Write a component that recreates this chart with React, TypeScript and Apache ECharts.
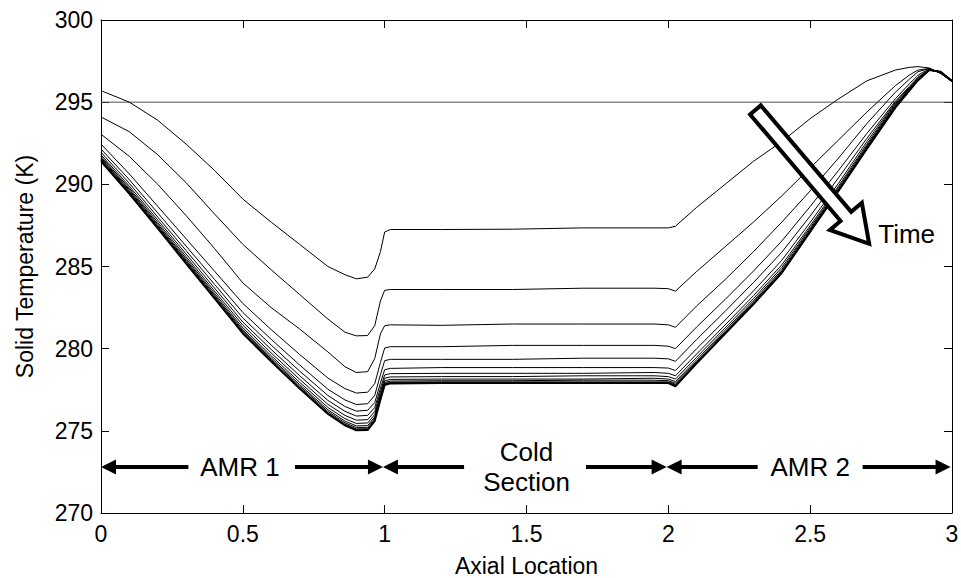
import React, { useEffect, useRef } from "react";
import * as echarts from "echarts";

const FONT = "'Liberation Sans', Arial, Helvetica, sans-serif";

// Axial positions shared by all temperature profiles
const xs = [0, 0.1, 0.2, 0.3, 0.4, 0.5, 0.6, 0.7, 0.8, 0.86, 0.9, 0.94, 0.965, 0.985, 1.0, 1.02, 1.2, 1.45, 1.7, 1.95, 2.0, 2.025, 2.1, 2.2, 2.3, 2.4, 2.5, 2.6, 2.7, 2.8, 2.85, 2.88, 2.92, 2.96, 3.0];

// Solid temperature profiles (K), earliest first
const t01 = [295.7, 295.0, 293.9, 292.45, 290.85, 289.1, 287.7, 286.35, 285.0, 284.5, 284.25, 284.35, 284.85, 285.9, 287.1, 287.25, 287.25, 287.27, 287.35, 287.35, 287.35, 287.45, 288.6, 290.0, 291.4, 292.6, 294.0, 295.2, 296.3, 296.95, 297.12, 297.16, 297.08, 296.75, 296.25];
const t02 = [294.1, 293.2, 291.8, 290.1, 288.2, 286.35, 284.8, 283.3, 281.8, 281.0, 280.78, 280.8, 281.4, 282.9, 283.55, 283.6, 283.6, 283.6, 283.68, 283.68, 283.65, 283.5, 284.7, 286.2, 287.7, 289.3, 291.0, 292.7, 294.4, 296.0, 296.65, 296.95, 297.05, 296.75, 296.25];
const t03 = [293.05, 291.7, 290.0, 288.1, 286.1, 284.0, 282.5, 281.2, 279.8, 278.9, 278.55, 278.6, 279.4, 280.9, 281.4, 281.45, 281.42, 281.5, 281.5, 281.5, 281.45, 281.3, 282.6, 284.2, 285.9, 287.7, 289.6, 291.6, 293.7, 295.6, 296.4, 296.85, 297.05, 296.78, 296.25];
const t04 = [292.45, 290.63, 288.66, 286.69, 284.72, 282.75, 281.16, 279.65, 278.21, 277.57, 277.3, 277.35, 277.87, 279.15, 280.04, 280.12, 280.12, 280.2, 280.2, 280.2, 280.15, 280.0, 281.32, 282.99, 284.72, 286.55, 288.65, 290.85, 293.1, 295.2, 296.12, 296.64, 297.03, 296.8, 296.27];
const t05 = [292.15, 290.28, 288.26, 286.24, 284.22, 282.2, 280.57, 279.01, 277.53, 276.88, 276.6, 276.65, 277.16, 278.41, 279.27, 279.35, 279.35, 279.35, 279.42, 279.42, 279.38, 279.23, 280.56, 282.27, 284.02, 285.87, 288.07, 290.4, 292.8, 295.05, 295.96, 296.52, 297.0, 296.82, 296.28];
const t06 = [291.95, 290.06, 288.01, 285.97, 283.92, 281.87, 280.22, 278.64, 277.15, 276.48, 276.2, 276.25, 276.72, 277.9, 278.72, 278.8, 278.85, 278.85, 278.85, 278.85, 278.82, 278.67, 280.0, 281.74, 283.51, 285.38, 287.68, 290.07, 292.6, 294.98, 295.9, 296.46, 296.98, 296.83, 296.29];
const t07 = [291.8, 289.89, 287.83, 285.76, 283.69, 281.62, 279.95, 278.36, 276.85, 276.19, 275.9, 275.94, 276.42, 277.59, 278.4, 278.48, 278.5, 278.5, 278.5, 278.55, 278.5, 278.35, 279.68, 281.44, 283.22, 285.1, 287.48, 289.9, 292.45, 294.9, 295.84, 296.42, 296.97, 296.84, 296.29];
const t08 = [291.7, 289.77, 287.69, 285.6, 283.51, 281.43, 279.74, 278.14, 276.61, 275.94, 275.65, 275.68, 276.18, 277.37, 278.2, 278.28, 278.3, 278.3, 278.35, 278.35, 278.3, 278.15, 279.48, 281.26, 283.04, 284.94, 287.36, 289.8, 292.35, 294.84, 295.8, 296.4, 296.96, 296.84, 296.3];
const t09 = [291.62, 289.68, 287.58, 285.48, 283.37, 281.27, 279.57, 277.96, 276.42, 275.74, 275.45, 275.48, 275.99, 277.21, 278.04, 278.13, 278.15, 278.15, 278.15, 278.2, 278.15, 278.0, 279.33, 281.12, 282.91, 284.81, 287.27, 289.71, 292.27, 294.78, 295.77, 296.38, 296.96, 296.85, 296.3];
const t10 = [291.56, 289.61, 287.5, 285.38, 283.27, 281.15, 279.45, 277.82, 276.28, 275.59, 275.3, 275.32, 275.85, 277.09, 277.94, 278.03, 278.05, 278.05, 278.08, 278.08, 278.05, 277.9, 279.23, 281.03, 282.82, 284.72, 287.2, 289.66, 292.23, 294.73, 295.75, 296.36, 296.95, 296.85, 296.3];
const t11 = [291.5, 289.54, 287.43, 285.31, 283.19, 281.07, 279.36, 277.73, 276.18, 275.49, 275.2, 275.21, 275.76, 277.01, 277.87, 277.96, 277.98, 277.98, 277.98, 277.98, 277.98, 277.83, 279.16, 280.97, 282.76, 284.66, 287.15, 289.63, 292.2, 294.7, 295.73, 296.35, 296.95, 296.85, 296.3];
const t12 = [291.46, 289.5, 287.38, 285.25, 283.13, 281.0, 279.29, 277.65, 276.1, 275.41, 275.12, 275.13, 275.68, 276.95, 277.83, 277.92, 277.94, 277.94, 277.94, 277.94, 277.94, 277.78, 279.13, 280.93, 282.73, 284.63, 287.13, 289.61, 292.17, 294.67, 295.72, 296.34, 296.95, 296.85, 296.3];
const t13 = [291.43, 289.45, 287.34, 285.2, 283.08, 280.95, 279.24, 277.6, 276.05, 275.36, 275.07, 275.08, 275.62, 276.91, 277.8, 277.9, 277.91, 277.91, 277.91, 277.91, 277.91, 277.74, 279.11, 280.91, 282.71, 284.61, 287.11, 289.6, 292.16, 294.66, 295.71, 296.33, 296.95, 296.85, 296.3];
const t14 = [291.4, 289.42, 287.31, 285.17, 283.05, 280.92, 279.21, 277.57, 276.02, 275.33, 275.03, 275.04, 275.58, 276.88, 277.78, 277.88, 277.9, 277.9, 277.9, 277.9, 277.9, 277.7, 279.1, 280.9, 282.7, 284.6, 287.1, 289.6, 292.15, 294.65, 295.7, 296.32, 296.95, 296.85, 296.3];

const profiles = [t01, t02, t03, t04, t05, t06, t07, t08, t09, t10, t11, t12, t13, t14];

// Reference temperature line
const refLevel = 295;

// Axis ranges
const xRange = [0, 3];
const xStep = 0.5;
const yRange = [270, 300];
const yStep = 5;

// Region annotations: [from, to, head at from, head at to]
const spanLevel = 272.8;
const spans = [
  [0, 0.308, 1, 0],
  [0.684, 0.994, 0, 1],
  [0.994, 1.28, 1, 0],
  [1.71, 1.994, 0, 1],
  [1.994, 2.315, 1, 0],
  [2.685, 2.995, 0, 1],
];
const spanLabelX = [0.49, 1.5, 2.5];
const spanLabelText = ["AMR 1", "Cold\nSection", "AMR 2"];

// Time arrow: [tailX, tailY, tipX, tipY]
const timeArrow = [2.307, 294.53, 2.708, 286.38];
const timeLabel = { x: 2.74, y: 287.0, text: "Time" };

export default function App() {
  const ref = useRef<HTMLDivElement>(null);
  useEffect(() => {
    if (!ref.current) return;
    const chart = echarts.init(ref.current, null, { renderer: "svg" });

    const lineSeries = profiles.map((ys, i) => ({
      type: "line",
      data: xs.map((x, j) => [x, ys[j]]),
      symbol: "none",
      showSymbol: false,
      silent: true,
      z: 3,
      lineStyle: { color: "#000", width: i === profiles.length - 1 ? 1.8 : 1 },
      emphasis: { disabled: true },
    }));

    const HEAD_LEN = 15;
    const HEAD_HALF = 7.5;

    const option: any = {
      animation: false,
      backgroundColor: "#fff",
      textStyle: { fontFamily: FONT },
      grid: { left: 101, top: 20, width: 851, height: 493, outerBoundsMode: "none" },
      xAxis: [
        {
          type: "value",
          min: xRange[0],
          max: xRange[1],
          interval: xStep,
          position: "bottom",
          name: "Axial Location",
          nameLocation: "middle",
          nameGap: 41,
          nameTextStyle: { fontSize: 23, color: "#000", fontFamily: FONT },
          axisLine: { show: true, onZero: false, lineStyle: { color: "#000", width: 1 } },
          axisTick: { show: true, inside: true, length: 8, lineStyle: { color: "#000" } },
          axisLabel: { fontSize: 23, color: "#000", margin: 9, fontFamily: FONT },
          splitLine: { show: false },
        },
        {
          type: "value",
          min: xRange[0],
          max: xRange[1],
          interval: xStep,
          position: "top",
          axisLine: { show: true, onZero: false, lineStyle: { color: "#000", width: 1 } },
          axisTick: { show: true, inside: true, length: 8, lineStyle: { color: "#000" } },
          axisLabel: { show: false },
          splitLine: { show: false },
        },
      ],
      yAxis: [
        {
          type: "value",
          min: yRange[0],
          max: yRange[1],
          interval: yStep,
          position: "left",
          name: "Solid Temperature (K)",
          nameLocation: "middle",
          nameGap: 65,
          nameTextStyle: { fontSize: 23, color: "#000", fontFamily: FONT },
          axisLine: { show: true, onZero: false, lineStyle: { color: "#000", width: 1 } },
          axisTick: { show: true, inside: true, length: 8, lineStyle: { color: "#000" } },
          axisLabel: { fontSize: 23, color: "#000", margin: 8, fontFamily: FONT },
          splitLine: { show: false },
        },
        {
          type: "value",
          min: yRange[0],
          max: yRange[1],
          interval: yStep,
          position: "right",
          axisLine: { show: true, onZero: false, lineStyle: { color: "#000", width: 1 } },
          axisTick: { show: true, inside: true, length: 8, lineStyle: { color: "#000" } },
          axisLabel: { show: false },
          splitLine: { show: false },
        },
      ],
      series: [
        {
          type: "line",
          data: [
            [xRange[0], refLevel],
            [xRange[1], refLevel],
          ],
          symbol: "none",
          silent: true,
          z: 2,
          lineStyle: { color: "#505050", width: 1 },
        },
        ...lineSeries,
        {
          type: "custom",
          silent: true,
          z: 5,
          data: spans.map((s) => [s[0], s[1], spanLevel, s[2], s[3]]),
          renderItem: (params: any, api: any) => {
            const x1 = api.value(0);
            const x2 = api.value(1);
            const y = api.value(2);
            const hs = api.value(3);
            const he = api.value(4);
            const p1 = api.coord([x1, y]);
            const p2 = api.coord([x2, y]);
            const a = hs ? p1[0] + HEAD_LEN - 1 : p1[0];
            const b = he ? p2[0] - HEAD_LEN + 1 : p2[0];
            const children: any[] = [
              {
                type: "line",
                shape: { x1: a, y1: p1[1], x2: b, y2: p2[1] },
                style: { stroke: "#000", lineWidth: 4 },
              },
            ];
            if (hs) {
              children.push({
                type: "polygon",
                shape: {
                  points: [
                    [p1[0], p1[1]],
                    [p1[0] + HEAD_LEN, p1[1] - HEAD_HALF],
                    [p1[0] + HEAD_LEN, p1[1] + HEAD_HALF],
                  ],
                },
                style: { fill: "#000" },
              });
            }
            if (he) {
              children.push({
                type: "polygon",
                shape: {
                  points: [
                    [p2[0], p2[1]],
                    [p2[0] - HEAD_LEN, p2[1] - HEAD_HALF],
                    [p2[0] - HEAD_LEN, p2[1] + HEAD_HALF],
                  ],
                },
                style: { fill: "#000" },
              });
            }
            return { type: "group", children };
          },
        },
        {
          type: "custom",
          silent: true,
          z: 5,
          data: spanLabelX.map((x) => [x, spanLevel]),
          renderItem: (params: any, api: any) => {
            const p = api.coord([api.value(0), api.value(1)]);
            return {
              type: "text",
              x: p[0],
              y: p[1],
              style: {
                text: spanLabelText[params.dataIndex],
                fill: "#000",
                fontSize: 26,
                fontFamily: FONT,
                lineHeight: 30,
                align: "center",
                verticalAlign: "middle",
              },
            };
          },
        },
        {
          type: "custom",
          silent: true,
          z: 6,
          data: [timeArrow],
          renderItem: (params: any, api: any) => {
            const T = api.coord([api.value(0), api.value(1)]);
            const P = api.coord([api.value(2), api.value(3)]);
            const dx = P[0] - T[0];
            const dy = P[1] - T[1];
            const len = Math.sqrt(dx * dx + dy * dy);
            const ux = dx / len;
            const uy = dy / len;
            const nx = -uy;
            const ny = ux;
            const headLen = 36;
            const headHalf = 21;
            const shaftHalf = 7;
            const B = [P[0] - ux * headLen, P[1] - uy * headLen];
            const pts = [
              [T[0] + nx * shaftHalf, T[1] + ny * shaftHalf],
              [B[0] + nx * shaftHalf, B[1] + ny * shaftHalf],
              [B[0] + nx * headHalf, B[1] + ny * headHalf],
              [P[0], P[1]],
              [B[0] - nx * headHalf, B[1] - ny * headHalf],
              [B[0] - nx * shaftHalf, B[1] - ny * shaftHalf],
              [T[0] - nx * shaftHalf, T[1] - ny * shaftHalf],
            ];
            const L = api.coord([timeLabel.x, timeLabel.y]);
            return {
              type: "group",
              children: [
                {
                  type: "polygon",
                  shape: { points: pts },
                  style: { fill: "#fff", stroke: "#000", lineWidth: 4, lineJoin: "miter", miterLimit: 10 },
                },
                {
                  type: "text",
                  x: L[0],
                  y: L[1],
                  style: {
                    text: timeLabel.text,
                    fill: "#000",
                    fontSize: 26,
                    fontFamily: FONT,
                    align: "left",
                    verticalAlign: "middle",
                  },
                },
              ],
            };
          },
        },
      ],
    };

    chart.setOption(option);
    return () => chart.dispose();
  }, []);

  return (
    <div
      ref={ref}
      style={{ position: "fixed", left: 0, top: 0, width: 961, height: 578, background: "#fff" }}
    />
  );
}
